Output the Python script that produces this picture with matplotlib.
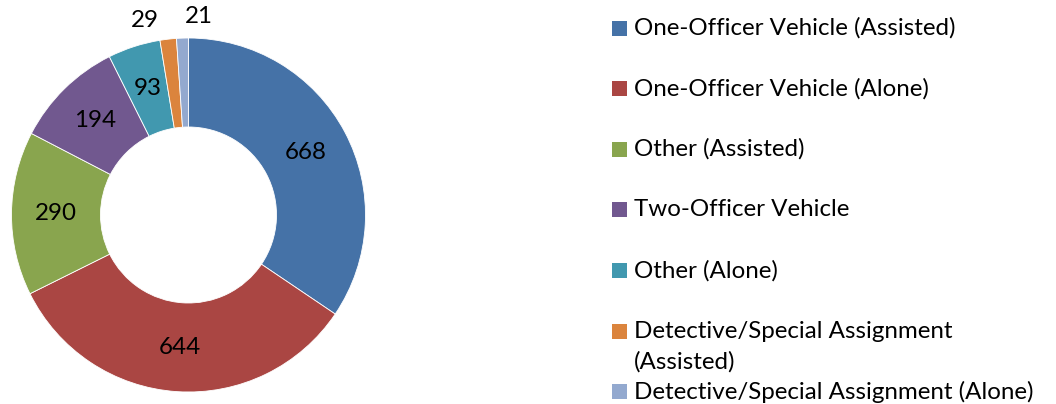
import numpy as np
import matplotlib.pyplot as plt
from matplotlib.patches import Rectangle

categories = [
    'One-Officer Vehicle (Assisted)',
    'One-Officer Vehicle (Alone)',
    'Other (Assisted)',
    'Two-Officer Vehicle',
    'Other (Alone)',
    'Detective/Special Assignment\n(Assisted)',
    'Detective/Special Assignment (Alone)',
]
counts = [668, 644, 290, 194, 93, 29, 21]
colors = ['#4572A7', '#AA4643', '#89A54E', '#71588F', '#4198AF', '#DB843D', '#93A9CF']

plt.rcParams['font.family'] = ['Lato', 'DejaVu Sans']
W, H = 1056, 404
fig = plt.figure(figsize=(W / 100, H / 100), dpi=100)
ax = fig.add_axes([0, 0, 1, 1])

cx, cy = 188.5, H - 215
r_out, r_in = 177, 88
wedges, _ = ax.pie(counts, colors=colors, startangle=90, counterclock=False,
                   center=(cx, cy), radius=r_out,
                   wedgeprops=dict(width=r_out - r_in, edgecolor='white', linewidth=0.6))
ax.set_xlim(0, W)
ax.set_ylim(0, H)
ax.set_aspect('equal')
ax.axis('off')

fs = 17.4
# value labels: big slices in the ring, the two thin ones pushed outside
nudge = {5: 6.0, 6: -5.0}
for i, (w, v) in enumerate(zip(wedges, counts)):
    mid = np.deg2rad((w.theta1 + w.theta2) / 2 + nudge.get(i, 0))
    r = 199 if i in nudge else (r_out + r_in) / 2
    ax.text(cx + r * np.cos(mid), cy + r * np.sin(mid), str(v),
            ha='center', va='center', fontsize=fs, color='black')

# legend drawn by hand
step, line_h = 60.6, 31
for i, (lab, c) in enumerate(zip(categories, colors)):
    y = H - (28 + step * i)
    ax.add_patch(Rectangle((612, y - 7.5), 15, 15, facecolor=c, edgecolor='none'))
    for k, part in enumerate(lab.split('\n')):
        ax.text(634, y - k * line_h, part, ha='left', va='center',
                fontsize=fs, color='black')

fig.savefig('out.png', dpi=100)
